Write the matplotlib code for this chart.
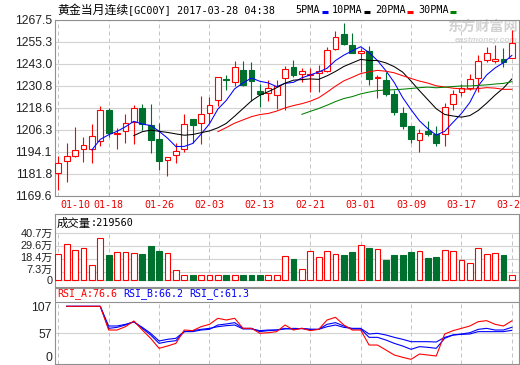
import matplotlib
matplotlib.use('Agg')
import matplotlib.pyplot as plt
from matplotlib.patches import Rectangle
from matplotlib.lines import Line2D
from matplotlib.transforms import ScaledTranslation
import numpy as np
import pandas as pd

plt.rcParams['font.family'] = ['Liberation Sans', 'Noto Sans CJK SC']

W, H = 520, 365

# daily candles, 01-10 .. 03-27
opens = [1182.2, 1188.9, 1191.6, 1195.7, 1195.7, 1200.2, 1217.4, 1203.9, 1205.8, 1210.7,
         1218.4, 1208.8, 1200.9, 1189.5, 1192.3, 1195.7, 1212.2, 1210.3, 1215.9, 1222.7,
         1234.5, 1232.8, 1239.7, 1239.7, 1227.9, 1226.8, 1225.7, 1235.1, 1241.2, 1237.3,
         1236.9, 1237.9, 1238.8, 1251.2, 1259.6, 1253.8, 1248.9, 1250.4, 1235.1, 1233.9,
         1226.0, 1215.9, 1208.4, 1200.6, 1205.4, 1203.9, 1203.9, 1220.4, 1227.2, 1229.4,
         1235.1, 1245.2, 1244.8, 1245.6, 1246.3]
highs = [1191.6, 1198.7, 1207.7, 1202.1, 1209.4, 1219.3, 1218.2, 1207.3, 1215.0, 1220.1,
         1220.8, 1220.6, 1209.9, 1191.2, 1198.7, 1214.8, 1212.2, 1224.9, 1224.6, 1235.6,
         1236.6, 1244.4, 1244.8, 1244.1, 1231.7, 1233.9, 1233.9, 1241.8, 1245.4, 1240.9,
         1240.9, 1242.6, 1252.5, 1261.5, 1265.6, 1260.0, 1251.9, 1253.1, 1236.9, 1238.4,
         1228.7, 1218.9, 1208.4, 1206.6, 1211.1, 1208.4, 1221.3, 1228.7, 1231.7, 1237.3,
         1248.2, 1252.3, 1253.8, 1251.9, 1261.7]
lows = [1172.4, 1177.3, 1191.0, 1188.2, 1187.8, 1197.2, 1202.4, 1195.3, 1198.7, 1198.3,
        1206.1, 1193.4, 1184.1, 1180.3, 1187.6, 1193.8, 1198.7, 1198.3, 1209.9, 1219.3,
        1228.5, 1230.9, 1230.9, 1222.5, 1218.9, 1222.3, 1217.8, 1217.4, 1235.8, 1232.8,
        1227.3, 1227.6, 1238.4, 1250.9, 1253.4, 1249.3, 1238.4, 1231.5, 1223.8, 1225.3,
        1214.4, 1206.6, 1199.1, 1194.1, 1202.8, 1197.2, 1197.2, 1217.3, 1225.1, 1228.7,
        1227.2, 1244.1, 1243.7, 1241.1, 1246.3]
closes = [1187.8, 1191.9, 1195.1, 1197.5, 1203.0, 1217.1, 1204.7, 1204.7, 1210.3, 1218.2,
          1209.4, 1200.6, 1188.7, 1191.2, 1194.7, 1209.7, 1208.8, 1214.8, 1220.1, 1235.6,
          1233.9, 1241.2, 1231.3, 1233.7, 1226.4, 1229.4, 1230.9, 1240.3, 1236.6, 1239.0,
          1237.5, 1238.8, 1251.0, 1258.1, 1254.2, 1249.3, 1250.4, 1234.7, 1235.8, 1226.0,
          1216.3, 1208.4, 1200.9, 1204.7, 1203.9, 1198.7, 1218.8, 1226.0, 1229.4, 1234.7,
          1244.8, 1249.3, 1245.6, 1244.1, 1254.9]
# volume in 万
volumes = [22.9, 31.5, 26.4, 28.1, 12.6, 36.7, 21.5, 24.6, 24.6, 23.8,
           22.4, 29.2, 24.9, 23.8, 8.3, 4.0, 4.3, 4.0, 4.0, 4.0,
           4.3, 4.0, 4.3, 4.3, 4.3, 4.0, 4.0, 21.2, 18.1, 9.2,
           25.5, 20.3, 25.5, 22.1, 21.5, 24.1, 30.7, 27.5, 27.2, 17.2,
           21.5, 21.5, 24.1, 25.5, 18.9, 19.8, 26.4, 25.5, 16.9, 14.3,
           28.1, 22.1, 23.8, 21.5, 4.0]
nan = np.nan
rsi_a = [nan, 100, 100, 100, 100, 100, 61.8, 61.8, 67.2, 76.4,
         61.8, 48.4, 32.3, 36.0, 40.3, 61.8, 60.8, 67.2, 71.0, 80.7,
         78.0, 80.7, 64.5, 64.5, 56.5, 57.5, 59.2, 69.9, 61.8, 64.5,
         60.8, 62.9, 78.0, 82.3, 69.9, 61.8, 61.8, 37.6, 37.6, 29.6,
         21.5, 17.8, 14.5, 23.1, 21.5, 19.9, 55.4, 60.8, 64.5, 68.3,
         75.3, 76.9, 71.0, 68.3, 76.6]
rsi_b = [nan, 100, 100, 100, 100, 100, 64.5, 66.1, 69.9, 75.3,
         64.5, 53.8, 40.3, 43.0, 44.6, 59.2, 59.2, 61.8, 62.9, 69.9,
         71.5, 73.7, 64.5, 64.5, 59.2, 60.8, 61.8, 64.5, 62.9, 64.5,
         62.9, 62.9, 71.0, 73.7, 68.3, 63.5, 63.5, 50.0, 50.0, 45.7,
         40.3, 36.0, 30.7, 35.0, 33.9, 32.3, 48.4, 53.8, 55.4, 57.5,
         62.9, 64.5, 61.8, 61.8, 66.2]
rsi_c = [nan, 100, 100, 100, 100, 100, 68.3, 68.3, 71.0, 74.8,
         66.1, 56.5, 44.1, 46.8, 48.4, 59.2, 60.8, 62.9, 64.5, 67.2,
         68.8, 69.9, 63.5, 63.5, 60.8, 61.8, 61.8, 63.5, 64.5, 64.0,
         62.9, 62.9, 67.2, 69.9, 66.1, 64.5, 64.5, 55.4, 56.5, 53.8,
         50.0, 46.8, 43.0, 43.0, 43.0, 42.5, 50.0, 53.8, 54.8, 55.4,
         59.2, 59.2, 59.2, 59.2, 61.3]

date_labels = ['01-10', '01-18', '01-26', '02-03', '02-13', '02-21', '03-01', '03-09', '03-17', '03-27']
price_ticks = [1169.6, 1181.8, 1194.1, 1206.3, 1218.6, 1230.8, 1243.0, 1255.3, 1267.5]
vol_ticks = [0, 7.3, 18.4, 29.6, 40.7]
vol_tick_labels = ['0', '7.3万', '18.4万', '29.6万', '40.7万']
rsi_ticks = [7, 57, 107]
rsi_tick_labels = ['0', '57', '107']
ma_periods = [5, 10, 20, 30]
ma_colors = ['#0000ff', '#000000', '#ff0000', '#008000']

UP = '#ff0000'
DOWN = '#00702e'
FRAME = '#909090'
HGRID = '#d2d2d2'
VGRID = '#c4c4c4'
MONO = 'DejaVu Sans Mono'
CJK = 'Noto Sans CJK SC'


def rect(top, bottom):
    return [55 / W, 1 - bottom / H, 464 / W, (bottom - top) / H]


def fx(x):
    return x / W


def fy(y):
    return 1 - y / H


def nudge(label, dx_px, dy_px):
    # shift a tick label by a few pixels
    label.set_transform(label.get_transform() +
                        ScaledTranslation(dx_px / 100, dy_px / 100, fig.dpi_scale_trans))


fig = plt.figure(figsize=(W / 100, H / 100), dpi=100, facecolor='white')
ax = fig.add_axes(rect(20, 195.5))
axv = fig.add_axes(rect(214, 287))
axr = fig.add_axes(rect(288, 364))

n = len(closes)
x = np.arange(n)
step = 6
xticks = list(range(0, n, step))

for a in (ax, axv, axr):
    a.set_xlim(-0.39, 54.85)
    for s in a.spines.values():
        s.set_color(FRAME)
        s.set_linewidth(0.8)
    a.tick_params(length=0)

# ---- price panel
ax.set_ylim(price_ticks[0], price_ticks[-1])
ax.set_yticks(price_ticks)
ax.set_yticklabels(['%.1f' % t for t in price_ticks], fontsize=8.7, color='#222222')
ax.tick_params(axis='y', pad=2.2)
ax.set_xticks(xticks)
ax.set_xticklabels(date_labels, fontsize=7.2, color='#ee0000', fontfamily=MONO)
ax.tick_params(axis='x', pad=3.2)
first = ax.get_xticklabels()[0]
first.set_ha('left')
nudge(first, 1.7, 0)
ax.grid(True, axis='x', color=VGRID, lw=0.72, ls=(0, (4, 3)))
ax.grid(True, axis='y', color=HGRID, lw=0.8, ls='-')
ax.set_axisbelow(True)

for i in range(n):
    o, h, l, c = opens[i], highs[i], lows[i], closes[i]
    up = c >= o
    col = UP if up else DOWN
    ax.vlines(i, l, h, color=col, lw=0.8, zorder=3)
    body = max(abs(c - o), 0.35)
    ax.add_patch(Rectangle((i - 0.35, min(o, c)), 0.7, body,
                           facecolor='white' if up else col, edgecolor=col,
                           lw=0.8, zorder=4))

s = pd.Series(closes)
for p, col in zip(ma_periods, ma_colors):
    ax.plot(x, s.rolling(p).mean(), color=col, lw=0.75, zorder=5)

# watermark
ax.text(fx(447), fy(27), '东方财富网', transform=fig.transFigure, fontfamily=CJK,
        fontsize=10.2, fontweight='bold', color='#d2d2d2', va='center', ha='left', zorder=1)
ax.text(fx(455), fy(40), 'eastmoney.com', transform=fig.transFigure, fontsize=6,
        fontweight='bold', style='italic', color='#d4d4d4', va='center', ha='left', zorder=1)

# ---- volume panel
axv.set_ylim(-7 / 1.1548, 66 / 1.1548)
axv.set_yticks(vol_ticks)
axv.set_yticklabels(vol_tick_labels, fontsize=7.9, color='#222222')
axv.tick_params(axis='y', pad=1.5)
for lab, up_px in zip(axv.get_yticklabels(), [0, 2.6, 1.7, 0.8, 0]):
    nudge(lab, 0, up_px)
axv.set_xticks([])
for t in vol_ticks:
    axv.axhline(t, color=HGRID, lw=0.8, zorder=0)
axv.vlines(xticks, 0, vol_ticks[-1], color=VGRID, lw=0.72, ls=(0, (4, 3)), zorder=0)
vcol = [UP if closes[i] >= opens[i] else DOWN for i in range(n)]
vface = ['white' if closes[i] >= opens[i] else DOWN for i in range(n)]
axv.bar(x, volumes, width=0.7, color=vface, edgecolor=vcol, lw=0.8, zorder=3)

# ---- rsi panel
rs = 0.62
axr.set_ylim(rsi_ticks[0], rsi_ticks[0] + 76 / rs)
axr.set_yticks(rsi_ticks)
axr.set_yticklabels(rsi_tick_labels, fontsize=8.7, color='#222222')
axr.tick_params(axis='y', pad=2.2)
labs = axr.get_yticklabels()
labs[0].set_va('bottom')
labs[2].set_va('top')
axr.set_xticks([])
axr.axhline(rsi_ticks[2], color=FRAME, lw=0.8, zorder=0)
axr.axhline(rsi_ticks[1], color=HGRID, lw=0.8, zorder=0)
axr.vlines(xticks, rsi_ticks[0], rsi_ticks[2], color=VGRID, lw=0.72, ls=(0, (4, 3)), zorder=0)
axr.plot(x, rsi_c, color='#0000ff', lw=0.8, zorder=3)
axr.plot(x, rsi_b, color='#0000ff', lw=0.8, zorder=3)
axr.plot(x, rsi_a, color='#ff0000', lw=0.8, zorder=4)

# ---- header texts
fig.text(fx(57), fy(10), '黄金当月连续', fontfamily=CJK, fontsize=8.6, va='center', ha='left')
fig.text(fx(128), fy(10), '[GC00Y] 2017-03-28 04:38', fontfamily=MONO, fontsize=7.25,
         va='center', ha='left')
legend = [('5PMA', 295, 322), ('10PMA', 332, 364), ('20PMA', 375, 407), ('30PMA', 418, 450)]
for (lab, tx, dx), col in zip(legend, ma_colors):
    fig.text(fx(tx), fy(10), lab, fontfamily=MONO, fontsize=7.25, va='center', ha='left')
    fig.add_artist(Line2D([fx(dx), fx(dx + 6)], [fy(11.5), fy(11.5)], color=col, lw=2.2,
                          solid_capstyle='butt'))

fig.text(fx(57), fy(223), '成交量', fontfamily=CJK, fontsize=8.2, va='center', ha='left')
fig.text(fx(91), fy(223), ':219560', fontfamily=MONO, fontsize=7.3, va='center', ha='left')

fig.text(fx(57), fy(294), 'RSI_A:%.1f' % rsi_a[-1], fontfamily=MONO, fontsize=7.2,
         color='#ff0000', va='center', ha='left')
fig.text(fx(123), fy(294), 'RSI_B:%.1f' % rsi_b[-1], fontfamily=MONO, fontsize=7.2,
         color='#0000ff', va='center', ha='left')
fig.text(fx(189), fy(294), 'RSI_C:%.1f' % rsi_c[-1], fontfamily=MONO, fontsize=7.2,
         color='#0000ff', va='center', ha='left')

fig.savefig('out.png', dpi=100, facecolor='white')
